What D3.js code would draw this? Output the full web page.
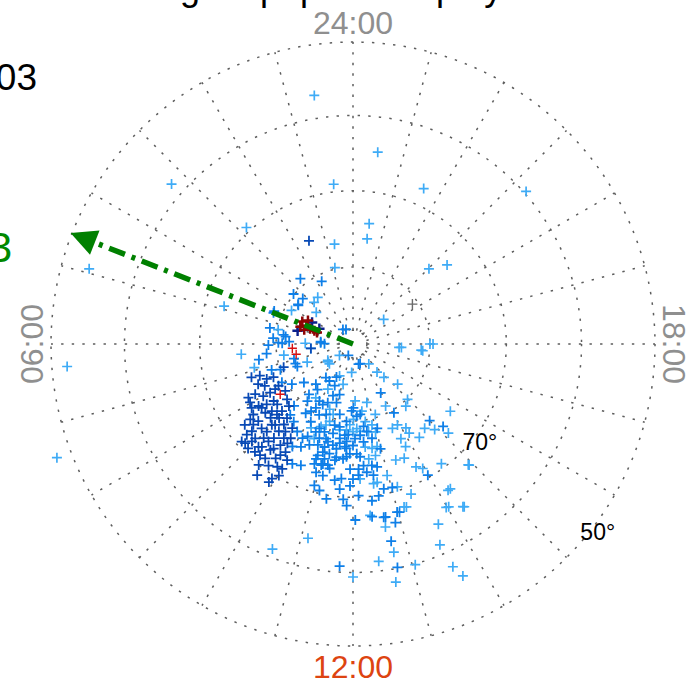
<!DOCTYPE html>
<html><head><meta charset="utf-8">
<script src="https://cdn.jsdelivr.net/npm/d3@7"></script>
<style>html,body{margin:0;padding:0;background:#fff;overflow:hidden}svg{display:block;font-family:"Liberation Sans",Arial,Helvetica,sans-serif}</style>
</head><body>
<svg id="chart" width="689" height="682"></svg>
<script>
// ---------------- data (MLT hours, magnetic latitude degrees) ----------------
const hourTicks = [0, 6, 12, 18];
const hourTickLabels = ["24:00", "06:00", "12:00", "18:00"];
const latRings = [80, 70, 60, 50];
const poleRingLat = 88.2;
const latLabelValues = [70, 50];
const latLabelMLT = 15.5;
const gridHours = d3.range(0, 24);

const lightPts = [[6.35,75.4],[6.61,80.9],[6.9,76.8],[7.44,83.6],[6.4,84.5],[8.2,86.1],[8.67,86.0],[11.08,84.6],[11.82,86.3],[14.56,86.7],[14.7,85.2],[14.86,84.1],[15.2,82.2],[17.72,84.0],[17.66,81.1],[18.0,80.0],[14.97,79.9],[14.69,79.4],[13.85,80.9],[13.17,80.4],[12.89,82.2],[12.14,82.6],[10.06,83.3],[10.88,79.5],[10.59,78.5],[11.41,78.7],[11.71,78.8],[11.85,79.5],[12.17,79.0],[12.67,78.4],[12.88,76.3],[10.23,77.8],[12.52,74.9],[12.97,72.3],[13.15,70.5],[12.66,71.7],[12.56,71.6],[12.38,67.5],[13.16,67.7],[13.41,69.0],[13.95,71.4],[13.81,72.0],[13.61,73.7],[13.35,73.9],[14.43,70.6],[14.2,67.2],[13.98,65.4],[14.27,64.3],[14.91,68.2],[13.67,77.9],[13.92,78.0],[13.79,76.2],[13.81,75.0],[14.15,76.3],[14.36,75.1],[14.69,75.6],[14.91,74.6],[15.13,73.0],[15.69,74.6],[14.15,77.1],[12.0,78.6],[12.45,76.5],[12.76,75.2],[10.69,81.0],[12.6,79.8],[12.88,79.2],[10.51,76.7],[12.2,72.4],[12.31,78.6],[12.69,76.2],[10.95,80.5],[9.69,81.5],
[0.59,56.9],[23.51,64.7],[3.24,58.2],[0.46,69.0],[22.37,67.7],[20.76,59.7],[2.83,69.4],[23.49,74.2],[23.49,76.2],[0.70,76.8],[4.94,53.8],[0.89,79.8],[20.98,76.1],[20.67,74.0],[4.91,72.5],[20.58,84.9],[2.47,82.4],[4.09,80.9],[3.28,83.7],
[6.3,52.1],[7.4,47.9],[14.92,68.1],[14.26,67.2],[14.29,64.2],[14.03,65.3],[13.69,63.9],[13.56,61.3],[12.74,62.2],[12.45,61.3],[13.05,59.9],[13.61,57.9],[13.69,56.2],[12.68,58.2],[12.0,59.4],[11.13,63.9],[10.57,61.1],[12.67,65.7],[13.21,67.6],[17.73,83.7],[17.63,80.9],[18.0,79.6],
[2.87,82.6],[5.28,80.1],[5.94,83.8],[8.37,86.0],[8.68,87.7],
[10.48,85.5],[12.5,81.2],[10.77,78.9],[12.02,80.2],[12.96,78.2]];

const mediumPts = [[6.05,79.0],[5.93,80.3],[6.93,82.1],[6.42,78.7],[6.63,77.6],[7.18,78.9],[7.3,80.0],[7.47,82.2],[7.89,79.5],[8.22,80.5],[8.54,81.9],[9.15,82.9],[5.84,85.8],[10.23,85.2],[9.41,84.4],[13.03,87.3],[13.97,82.7],[14.05,79.6],[12.02,81.7],[11.01,83.2],[10.59,82.8],[9.47,82.5],[9.26,81.3],[9.43,80.5],[9.71,79.1],[10.1,78.5],[10.3,79.8],[10.45,81.7],[10.61,80.2],[10.95,82.1],[12.49,79.2],[13.07,78.6],[12.76,77.5],[12.41,77.2],[12.08,77.7],[11.8,78.2],[11.47,77.6],[11.16,78.1],[10.8,78.0],[10.55,78.2],[10.26,76.6],[10.21,75.0],[10.44,75.7],[10.83,74.8],[10.96,75.4],[11.19,75.4],[11.4,76.2],[11.67,75.0],[11.89,75.7],[12.24,75.3],[12.59,74.0],[12.74,73.7],[12.17,73.7],[12.16,72.9],[11.67,72.4],[11.65,71.0],[11.92,71.5],[12.14,70.2],[11.76,69.7],[11.85,68.9],[11.22,73.9],[11.07,74.6],[11.29,73.5],[10.93,72.6],[10.98,70.9],[11.14,70.4],[11.35,69.5],[10.45,72.8],[10.21,72.5],[9.23,77.7],[9.51,77.3],[12.8,70.7],[13.02,70.6],[12.64,69.9],[12.46,69.4],[12.67,67.0],[12.98,67.3],[13.98,70.3],[15.0,75.9],[15.17,74.1],[10.81,74.3],[10.81,73.6],[11.02,73.7],[11.41,74.7],[11.49,77.0],[11.75,77.3],[12.3,78.1],[12.98,75.9],[11.68,79.9],[11.29,80.7],[10.23,81.2],[12.39,80.8],[12.13,75.7],[11.25,76.6],[10.94,77.2],[10.12,76.1],[9.83,76.5],[11.91,73.7],[12.41,73.2],[12.59,72.7],[9.96,74.5],[9.09,78.9],[11.39,79.1],[11.66,78.1],[12.0,76.8],[10.97,76.1],[10.72,76.1],[11.44,75.1],[11.04,76.9],[9.87,79.7],[10.47,77.6],[11.76,76.4],[9.97,81.4],
[2.59,79.1],[1.77,80.9],[3.33,79.9],[3.19,81.2],[3.61,81.2],[4.49,78.9],[1.71,87.9],[5.27,79.0],[5.5,80.9],[12.73,63.7],[12.75,60.1],[11.77,60.8],[12.42,67.3],[12.71,67.0],[12.05,67.0],[12.89,66.0],[13.03,67.2],[10.51,88.4],[3.65,81.3],[4.57,78.9],[5.58,81.2],[5.86,81.7],[5.96,80.8],[5.72,79.6],[5.72,85.8],[5.95,86.3],[2.31,87.7],[13.33,87.3],[7.26,82.1],
[9.83,84.3],[10.42,84.1],[11.92,81.3],[12.2,80.6],[11.7,76.6],[11.78,75.3],[11.06,73.9],[12.33,74.1],[9.99,80.4],[11.15,79.2],[10.69,77.0],[12.6,78.5],[11.14,72.4],[11.49,72.1],[12.0,72.4]];

const darkPts = [[7.21,76.1],[7.25,77.2],[7.47,77.9],[7.51,78.8],[9.87,73.4],[10.03,72.6],[10.03,71.3],[9.89,71.2],[9.93,69.5],[9.91,68.9],[9.47,70.0],[9.59,68.8],[8.84,70.9],[8.99,70.7],[8.72,72.6],[8.6,73.3],[9.16,71.8],[9.1,73.1],[9.03,74.0],[8.79,75.6],[9.07,75.4],[9.31,75.1],[9.49,75.6],[9.77,75.3],[9.61,76.5],[9.22,77.1],[8.89,77.3],[8.57,77.4],[8.64,76.3],[8.54,75.5],[8.22,75.3],[7.81,75.7],[8.01,76.5],[8.03,77.5],[8.01,78.3],[7.95,78.9],[7.69,77.3],[8.15,74.4],[8.35,74.1],[8.42,73.4],[8.94,78.4],[9.33,74.0],[9.52,72.9],[9.73,72.0],[9.5,71.2],[8.93,71.7],[9.34,71.1],[8.75,70.7],[7.81,74.7],[8.45,72.4],[8.93,72.3],[8.85,73.8],[9.27,73.2],[9.62,73.8],[9.29,76.2],[9.0,76.4],[8.38,77.3],[8.61,74.1],[8.33,76.3],[9.77,74.5],[9.68,70.7],[10.04,70.3],[9.18,71.0],[8.7,71.8],[8.67,78.8],[1.54,75.4],[6.4,84.5],[7.23,80.5],
[8.33,75.5],[8.86,76.5],[9.58,74.8],[9.23,72.1],[9.47,72.5],[9.79,72.7],[7.97,74.6],[7.53,76.6],[8.31,79.3],[8.99,75.1]];

const navyPts = [[4.15,84.0],[4.37,85.2],[5.1,82.6]];
const darkRedPts = [[4.41,82.8],[4.57,83.5],[4.69,84.1],[4.74,84.7],[4.91,83.4],[4.16,83.4],[4.83,85.1],[4.79,82.8]];
const redPts = [[6.27,82.1],[6.68,82.5],[8.31,78.5]];
const grayPts = [[20.26,80.7]];

const arrowMLT = 4.57;
const arrowLatStart = 90;
const arrowLatEnd = 49.8;

// ---------------- layout ----------------
const svg = d3.select("#chart");
const cx = 353, cy = 344, R = 302;
const deg = Math.PI / 180;
// Lambert-type polar radius: r ∝ sin(colat/2)
const rScale = d3.scaleLinear().domain([0, Math.sin(20 * deg)]).range([0, R]);
const radius = lat => rScale(Math.sin((90 - lat) / 2 * deg));
const ang = d3.scaleLinear().domain([0, 24]).range([-Math.PI, Math.PI]);
const proj = (m, l) => { const r = radius(l), a = ang(m); return [cx + r * Math.sin(a), cy + r * Math.cos(a)]; };

const gridStyle = g => g.attr("fill", "none").attr("stroke", "#5e5e5e").attr("stroke-width", 1.5).attr("stroke-dasharray", "2.4,8.2");

// rings
const grid = svg.append("g");
grid.selectAll("circle.ring").data(latRings.concat([poleRingLat])).join("circle")
  .attr("cx", cx).attr("cy", cy).attr("r", d => radius(d)).call(gridStyle);
// radial lines
grid.selectAll("line.spoke").data(gridHours).join("line")
  .attr("x1", h => proj(h, poleRingLat)[0]).attr("y1", h => proj(h, poleRingLat)[1])
  .attr("x2", h => proj(h, 50)[0]).attr("y2", h => proj(h, 50)[1]).call(gridStyle);

// markers
function crosses(data, color, size, width) {
  svg.append("g").attr("stroke", color).attr("stroke-width", width).attr("fill", "none")
    .selectAll("path").data(data).join("path")
    .attr("d", d => { const [x, y] = proj(d[0], d[1]); return `M${x - size},${y}H${x + size}M${x},${y - size}V${y + size}`; });
}
crosses(lightPts, "#3eabf6", 5, 1.7);
crosses(mediumPts, "#0e7fe8", 5, 1.8);
crosses(darkPts, "#0849b5", 5, 1.8);
crosses(grayPts, "#6a6a6a", 5, 1.4);
crosses(navyPts, "#0a1f8c", 5.2, 2.4);
crosses(darkRedPts, "#8e0505", 5, 2.5);
crosses(redPts, "#d81010", 4.6, 1.4);

// arrow
const p0 = proj(arrowMLT, arrowLatStart), tip = proj(arrowMLT, arrowLatEnd);
const L = Math.hypot(tip[0] - p0[0], tip[1] - p0[1]);
const ux = (tip[0] - p0[0]) / L, uy = (tip[1] - p0[1]) / L;
const headLen = 26, headHalf = 13;
const base = [tip[0] - ux * headLen, tip[1] - uy * headLen];
svg.append("line").attr("x1", p0[0]).attr("y1", p0[1]).attr("x2", base[0]).attr("y2", base[1])
  .attr("stroke", "#008000").attr("stroke-width", 5.5).attr("stroke-dasharray", "17,7,4,7");
svg.append("path").attr("fill", "#008000")
  .attr("d", `M${tip[0]},${tip[1]}L${base[0] - uy * headHalf},${base[1] + ux * headHalf}L${base[0] + uy * headHalf},${base[1] - ux * headHalf}Z`);

// hour labels
const hourColors = ["#8f8f8f", "#8f8f8f", "#dd4411", "#8f8f8f"];
const hourRot = [0, -90, 0, 90];
hourTicks.forEach((h, i) => {
  const a = ang(h), r = R + 20;
  const x = cx + r * Math.sin(a), y = cy + r * Math.cos(a);
  svg.append("text").attr("transform", `translate(${x},${y}) rotate(${hourRot[i]})`)
    .attr("text-anchor", "middle").attr("dy", "0.36em").attr("font-size", 32)
    .attr("fill", hourColors[i]).text(hourTickLabels[i]);
});

// latitude labels
latLabelValues.forEach(v => {
  const a = ang(latLabelMLT), r = radius(v) + 6.5;
  svg.append("text").attr("x", cx + r * Math.sin(a)).attr("y", cy + r * Math.cos(a))
    .attr("text-anchor", "middle").attr("dy", "0.36em").attr("font-size", 23).attr("fill", "#000")
    .text(v + "°");
});

// cut-off texts from the surrounding figure
const title = svg.append("text").attr("y", 0).attr("font-size", 36).attr("fill", "#000")
  .text("Satellite tracing map: polar display");
const gi = title.text().indexOf("g");
const off = title.node().getSubStringLength(0, gi) + title.node().getSubStringLength(gi, 1) / 2;
title.attr("x", 190 - off);
svg.append("text").attr("x", 37).attr("y", 90).attr("text-anchor", "end").attr("font-size", 37).attr("fill", "#000").text("03");
svg.append("text").attr("x", 12).attr("y", 262).attr("text-anchor", "end").attr("font-size", 42).attr("fill", "#008800").text("3");
</script>
</body></html>
